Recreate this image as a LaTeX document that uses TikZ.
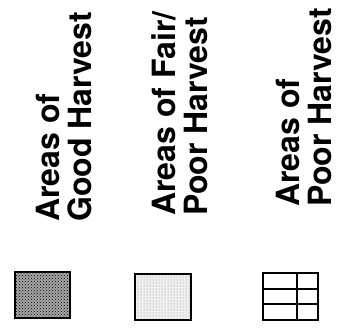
\documentclass[tikz,border=0pt]{standalone}
\usepackage{fontspec}
\setmainfont{TeX Gyre Heros}
\usepackage{tikz}
\usetikzlibrary{patterns}

\tikzset{
  legendtext/.style={rotate=90, anchor=south west, inner sep=0pt, align=left,
    font=\bfseries\fontsize{32}{32}\selectfont},
  legendbox/.style={draw=black, line width=2.2pt},
}

\begin{document}
\begin{tikzpicture}[x=1pt, y=1pt]
            \useasboundingbox (0,0) rectangle (344,328);

            % 标签
            \node[legendtext] (goodlabel) at (92,106) {Areas of\\Good Harvest};
            \node[legendtext] (fairlabel) at (208,112) {Areas of Fair/\\Poor Harvest};
            \node[legendtext] (poorlabel) at (332,121) {Areas of\\Poor Harvest};

            % 好收成（密点）
            \fill[black!35] (15,10) rectangle (70,56);
            \fill[pattern=crosshatch dots, pattern color=black] (15,10) rectangle (70,56);
            \draw[legendbox] (15,10) rectangle (70,56);

            % 一般/差收成（稀点）
            \fill[black!6] (135,8) rectangle (191,54);
            \fill[pattern=dots, pattern color=black!50] (135,8) rectangle (191,54);
            \draw[legendbox] (135,8) rectangle (191,54);

            % 差收成（格子）
            \draw[legendbox] (263,8) rectangle (318,55);
            \draw[line width=1.4pt] (297,8) -- (297,55);
            \draw[line width=1.4pt] (263,24) -- (318,24);
            \draw[line width=1.4pt] (263,39) -- (318,39);

\end{tikzpicture}
\end{document}
